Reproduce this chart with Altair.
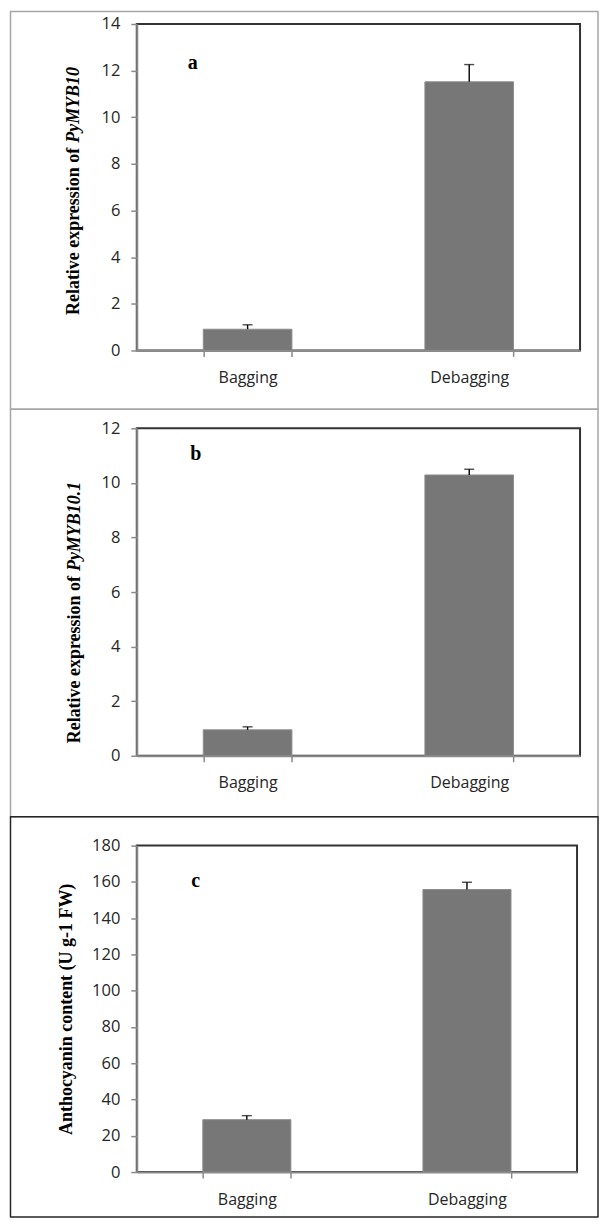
import altair as alt
import pandas as pd

categories = ["Bagging", "Debagging"]

a_values = [0.91, 11.52]
a_err_top = [1.10, 12.26]
b_values = [0.95, 10.29]
b_err_top = [1.06, 10.50]
c_values = [28.9, 155.8]
c_err_top = [31.1, 159.8]

a_ticks = [0, 2, 4, 6, 8, 10, 12, 14]
b_ticks = [0, 2, 4, 6, 8, 10, 12]
c_ticks = [0, 20, 40, 60, 80, 100, 120, 140, 160, 180]

a_title = ["Relative expression of", "PyMYB10"]
b_title = ["Relative expression of", "PyMYB10.1"]
c_title = "Anthocyanin content (U g-1 FW)"
letters = ["a", "b", "c"]

LABEL_FONT = "Open Sans"
SERIF = "Liberation Serif"


def panel(values, tops, ticks, letter, title, w, h, box, letter_pos, title_pos, border_color):
    df = pd.DataFrame({"cat": categories, "val": values, "top": tops})
    xscale = alt.Scale(domain=categories, paddingInner=0.6, paddingOuter=0.3)
    xaxis = alt.Axis(
        title=None, labelAngle=0, labelFont=LABEL_FONT, labelFontSize=16,
        labelColor="#262626", domainColor="#8a8a8a", domainWidth=2,
        tickColor="#8a8a8a", tickWidth=1.5, tickSize=6, tickBand="extent",
        labelPadding=13,
    )
    yaxis_kwargs = dict(
        values=ticks, labelFont=LABEL_FONT, labelFontSize=16.5, labelColor="#262626",
        domainColor="#8a8a8a", domainWidth=2, tickColor="#8a8a8a", tickWidth=1.5,
        tickSize=6, labelPadding=11, grid=False, labelOverlap=False,
    )
    if isinstance(title, str):
        yaxis = alt.Axis(title=title, titleFont=SERIF, titleFontWeight="bold",
                         titleFontSize=18, titleColor="#000000", titlePadding=16,
                         **yaxis_kwargs)
    else:
        yaxis = alt.Axis(title=None, **yaxis_kwargs)
    yscale = alt.Scale(domain=[ticks[0], ticks[-1]], nice=False)
    x = alt.X("cat:N", sort=categories, scale=xscale, axis=xaxis)
    y = alt.Y("val:Q", scale=yscale, axis=yaxis)

    base = alt.Chart(df)
    bars = base.mark_bar(color="#777777", stroke="#8e8e8e", strokeWidth=1).encode(x=x, y=y)
    err = base.mark_rule(color="#000000", strokeWidth=1.4).encode(x=x, y=y, y2="top:Q")
    cap = base.mark_tick(color="#000000", thickness=1.4, size=10, orient="horizontal").encode(
        x=x, y=alt.Y("top:Q", scale=yscale, axis=yaxis))

    one = pd.DataFrame({"t": [letter]})
    letter_mark = alt.Chart(one).mark_text(
        font=SERIF, fontWeight="bold", fontSize=20, color="#000000",
        align="center", baseline="middle",
    ).encode(x=alt.value(letter_pos[0]), y=alt.value(letter_pos[1]), text="t:N")

    border = alt.Chart(one).mark_rect(
        fillOpacity=0, stroke=border_color, strokeWidth=1.5, strokeJoin="round",
    ).encode(x=alt.value(box[0]), x2=alt.value(box[1]), y=alt.value(box[2]), y2=alt.value(box[3]))

    layers = [border, bars, err, cap, letter_mark]
    if not isinstance(title, str):
        t1 = alt.Chart(pd.DataFrame({"t": [title[0]]})).mark_text(
            font=SERIF, fontWeight="bold", fontSize=18, color="#000000",
            angle=270, align="right", baseline="middle",
        ).encode(x=alt.value(title_pos[0]), y=alt.value(title_pos[1]), text="t:N")
        t2 = alt.Chart(pd.DataFrame({"t": [title[1]]})).mark_text(
            font=SERIF, fontWeight="bold", fontStyle="italic", fontSize=18, color="#000000",
            angle=270, align="left", baseline="middle",
        ).encode(x=alt.value(title_pos[0]), y=alt.value(title_pos[1] - 5), text="t:N")
        layers += [t1, t2]
    return alt.layer(*layers).properties(width=w, height=h)


pa = panel(a_values, a_err_top, a_ticks, letters[0], a_title, 444, 327,
           (-126.5, 462, -12.5, 386), (56, 39), (-63, 124), "#a6a6a6")
pb = panel(b_values, b_err_top, b_ticks, letters[1], b_title, 444, 328,
           (-126.5, 462, -19, 389), (59, 26), (-62, 148), "#a6a6a6")
pc = panel(c_values, c_err_top, c_ticks, letters[2], c_title, 441, 327,
           (-126.5, 462, -29, 372), (59, 35), (0, 0), "#262626")

chart = alt.vconcat(pa, pb, pc, spacing=-4).properties(
    padding=0, background="#ffffff"
).configure_view(stroke="#333333", strokeWidth=2)

chart.save("out.html", embed_options={"renderer": "svg", "actions": False})
